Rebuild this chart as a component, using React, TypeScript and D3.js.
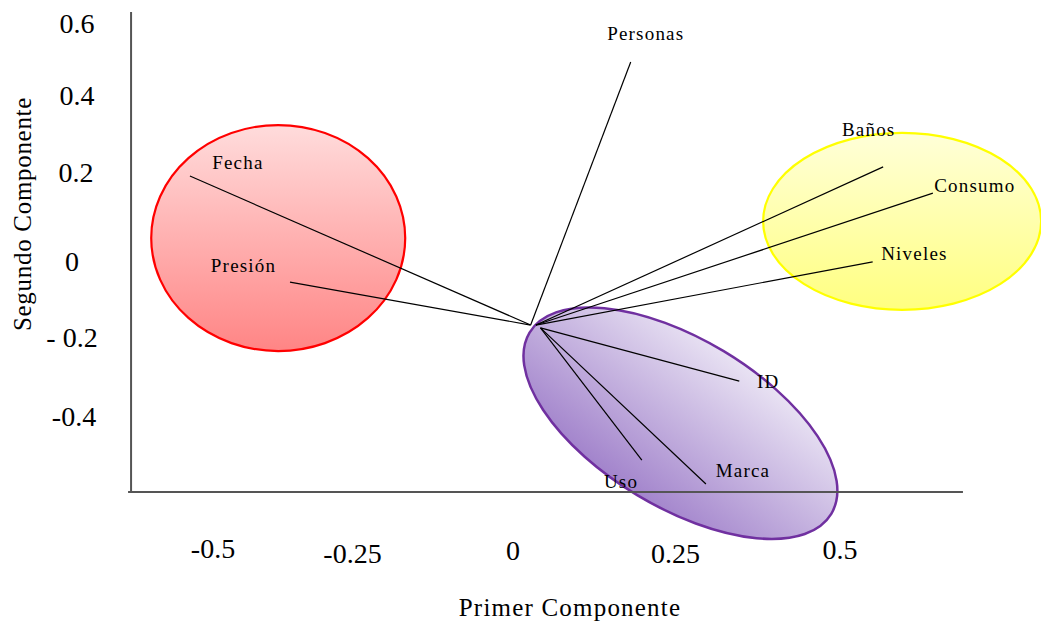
import React from "react";
import * as d3 from "d3";

// ---- data ----
const variables = ["Fecha", "Presión", "Personas", "Baños", "Consumo", "Niveles", "ID", "Marca", "Uso"];
const loadX = [-0.494, -0.341, 0.18, 0.566, 0.642, 0.55, 0.346, 0.295, 0.197];
const loadY = [0.205, -0.062, 0.492, 0.228, 0.162, -0.011, -0.311, -0.57, -0.51];
const labelX = [-0.46, -0.462, 0.144, 0.503, 0.644, 0.563, 0.373, 0.31, 0.139];
const labelY = [0.238, -0.021, 0.563, 0.321, 0.182, 0.009, -0.313, -0.535, -0.563];
const originX = [0.027, 0.027, 0.027, 0.035, 0.035, 0.035, 0.042, 0.042, 0.042];
const originY = [-0.17, -0.17, -0.17, -0.17, -0.17, -0.17, -0.177, -0.177, -0.177];

const groupNames = ["red", "yellow", "purple"];
const groupCX = [-0.359, 0.595, 0.256];
const groupCY = [0.049, 0.091, -0.417];

const xTicks = [-0.5, -0.25, 0, 0.25, 0.5];
const xTickLabels = ["-0.5", "-0.25", "0", "0.25", "0.5"];
const yTicks = [0.6, 0.4, 0.2, 0, -0.2, -0.4];
const yTickLabels = ["0.6", "0.4", "0.2", "0", "- 0.2", "-0.4"];

// ---- layout / style ----
const W = 1041;
const H = 623;
const FONT = "'Liberation Serif', 'Times New Roman', serif";
const xScale = d3.scaleLinear().domain([0, 0.5]).range([513, 840]);
const yScale = d3.scaleLinear().domain([0, 0.2]).range([257.5, 178.04]);
const axisXMin = -0.584;
const axisXMax = 0.688;
const axisYMin = -0.59;
const axisYMax = 0.618;
const xTickNudge = [27, 3, 0, -1, 0];
const xTickDy = [-2, 3, 0, 3, -1];
const yTickNudgeY = [4, -3, -6, 4, 1, 0];
const yTickNudgeX = [2, 2, 1, -3, -3, -1];

const ellipseStyle: Record<string, any> = {
  red: { rx: 127, ry: 113, rot: 0, stroke: "#FF0000", sw: 2.2, grad: "gRed" },
  yellow: { rx: 139, ry: 88.5, rot: 0, stroke: "#FFFF00", sw: 2.2, grad: "gYellow" },
  purple: { rx: 176, ry: 84, rot: 31, stroke: "#7030A0", sw: 2.5, grad: "gPurple" },
};

export default function App() {
  return (
    <svg
      width={W}
      height={H}
      style={{ position: "absolute", left: 0, top: 0, background: "#fff" }}
      fontFamily={FONT}
    >
      <defs>
        <linearGradient id="gRed" x1="0" y1="0" x2="0" y2="1">
          <stop offset="0" stopColor="#FFDCDC" />
          <stop offset="1" stopColor="#FF8585" />
        </linearGradient>
        <linearGradient id="gYellow" x1="0" y1="0" x2="0" y2="1">
          <stop offset="0" stopColor="#FFFFD8" />
          <stop offset="1" stopColor="#FFFF80" />
        </linearGradient>
        <linearGradient id="gPurple" x1="0.62" y1="0" x2="0.38" y2="1">
          <stop offset="0" stopColor="#EAE4F4" />
          <stop offset="1" stopColor="#A182CB" />
        </linearGradient>
      </defs>
      <rect x={0} y={0} width={W} height={H} fill="#fff" />

      {groupNames.map((g, i) => {
        const s = ellipseStyle[g];
        const cx = xScale(groupCX[i]);
        const cy = yScale(groupCY[i]);
        return (
          <ellipse
            key={g}
            cx={cx}
            cy={cy}
            rx={s.rx}
            ry={s.ry}
            transform={`rotate(${s.rot} ${cx} ${cy})`}
            fill={`url(#${s.grad})`}
            stroke={s.stroke}
            strokeWidth={s.sw}
          />
        );
      })}

      {/* axes */}
      <line
        x1={xScale(axisXMin)}
        x2={xScale(axisXMin)}
        y1={yScale(axisYMax)}
        y2={yScale(axisYMin)}
        stroke="#555"
        strokeWidth={2}
      />
      <line
        x1={xScale(axisXMin) - 3}
        x2={xScale(axisXMax)}
        y1={yScale(axisYMin)}
        y2={yScale(axisYMin)}
        stroke="#555"
        strokeWidth={2}
      />

      {/* vectors */}
      {variables.map((v, i) => (
        <line
          key={"l" + v}
          x1={xScale(originX[i])}
          y1={yScale(originY[i])}
          x2={xScale(loadX[i])}
          y2={yScale(loadY[i])}
          stroke="#000"
          strokeWidth={1.2}
        />
      ))}
      {variables.map((v, i) => (
        <text
          key={"t" + v}
          x={xScale(labelX[i])}
          y={yScale(labelY[i])}
          dominantBaseline="central"
          fontSize={19}
          letterSpacing={1.2}
          fill="#000"
        >
          {v}
        </text>
      ))}

      {/* tick labels */}
      {xTicks.map((t, i) => (
        <text
          key={"x" + t}
          x={xScale(t) + xTickNudge[i]}
          y={550 + xTickDy[i]}
          textAnchor="middle"
          dominantBaseline="central"
          fontSize={28}
          fill="#000"
        >
          {xTickLabels[i]}
        </text>
      ))}
      {yTicks.map((t, i) => (
        <text
          key={"y" + t}
          x={75 + yTickNudgeX[i]}
          y={yScale(t) + yTickNudgeY[i]}
          textAnchor="middle"
          dominantBaseline="central"
          fontSize={28}
          fill="#000"
        >
          {yTickLabels[i]}
        </text>
      ))}

      {/* axis titles */}
      <text
        x={570}
        y={607}
        textAnchor="middle"
        dominantBaseline="central"
        fontSize={25}
        letterSpacing={1.2}
        fill="#000"
      >
        Primer Componente
      </text>
      <text
        x={22}
        y={214}
        textAnchor="middle"
        dominantBaseline="central"
        fontSize={25}
        letterSpacing={0.7}
        fill="#000"
        transform="rotate(-90 22 214)"
      >
        Segundo Componente
      </text>
    </svg>
  );
}
